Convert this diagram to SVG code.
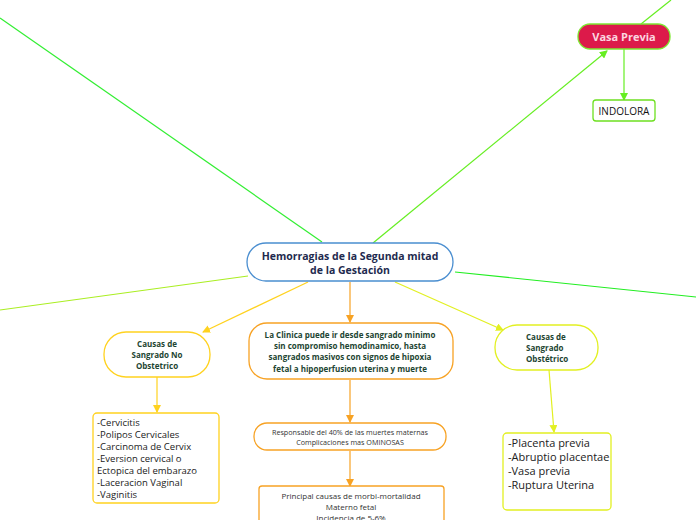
<svg xmlns="http://www.w3.org/2000/svg" width="696" height="520" viewBox="0 0 696 520">
<defs>
<style>
text{font-family:"Open Sans","Noto Sans","Liberation Sans",sans-serif}
.c{fill:none;stroke-width:1.2}
.bt{font-weight:bold;fill:#1d4532;font-size:8px}
.node{fill:#fff;stroke-width:1.3}
</style>
<marker id="mg" markerWidth="8" markerHeight="8" refX="7" refY="4" orient="auto" markerUnits="userSpaceOnUse"><path d="M0,0L8,4L0,8z" fill="#66ee22"/></marker>
<marker id="my" markerWidth="8" markerHeight="8" refX="7" refY="4" orient="auto" markerUnits="userSpaceOnUse"><path d="M0,0L8,4L0,8z" fill="#ffd21f"/></marker>
<marker id="ml" markerWidth="8" markerHeight="8" refX="7" refY="4" orient="auto" markerUnits="userSpaceOnUse"><path d="M0,0L8,4L0,8z" fill="#e2f022"/></marker>
<marker id="mo" markerWidth="8" markerHeight="8" refX="7" refY="4" orient="auto" markerUnits="userSpaceOnUse"><path d="M0,0L8,4L0,8z" fill="#f7a224"/></marker>
</defs>
<rect width="696" height="520" fill="#fff"/>
<g id="connectors">
<line class="c" x1="0" y1="18" x2="322" y2="242" stroke="#33ee33"/>
<line class="c" x1="0" y1="310" x2="248" y2="276" stroke="#aaee22"/>
<line class="c" x1="455" y1="272" x2="696" y2="297" stroke="#22ee22"/>
<line class="c" x1="373" y1="243" x2="607" y2="51" stroke="#66ee22" marker-end="url(#mg)"/>
<line class="c" x1="641" y1="24" x2="671" y2="0" stroke="#66ee22"/>
<line class="c" x1="624" y1="49" x2="624" y2="100" stroke="#66ee22" marker-end="url(#mg)"/>
<line class="c" x1="308" y1="282" x2="203" y2="332" stroke="#ffd21f" marker-end="url(#my)"/>
<line class="c" x1="395" y1="282" x2="503" y2="330" stroke="#e2f022" marker-end="url(#ml)"/>
<line class="c" x1="350" y1="282" x2="350" y2="322" stroke="#f7a224" marker-end="url(#mo)"/>
<line class="c" x1="350" y1="380" x2="350" y2="422" stroke="#f7a224" marker-end="url(#mo)"/>
<line class="c" x1="350" y1="451" x2="350" y2="486" stroke="#f7a224" marker-end="url(#mo)"/>
<line class="c" x1="157" y1="377" x2="157" y2="412" stroke="#ffd21f" marker-end="url(#my)"/>
<line class="c" x1="549" y1="370" x2="554" y2="432" stroke="#e2f022" marker-end="url(#ml)"/>
</g>
<g id="center">
<rect class="node" x="247" y="243" width="206" height="38" rx="19" stroke="#4a8ed0"/>
<text x="350" y="260" font-size="10.5" font-weight="bold" fill="#1e2a4e" text-anchor="middle">Hemorragias de la Segunda mitad</text>
<text x="350" y="274" font-size="10.5" font-weight="bold" fill="#1e2a4e" text-anchor="middle">de la Gestación</text>
</g>
<g id="vasa">
<rect x="578" y="24" width="92" height="25" rx="12" fill="#dc1a4a" stroke="#7ee832" stroke-width="1.3"/>
<text x="624" y="41" font-size="11" font-weight="bold" fill="#fbd6e0" text-anchor="middle">Vasa Previa</text>
</g>
<g id="indolora">
<rect class="node" x="593" y="100" width="62" height="21" rx="3" stroke="#6ee020" stroke-width="1.5"/>
<text x="624" y="115" font-size="10" fill="#111" text-anchor="middle">INDOLORA</text>
</g>
<g id="clinica">
<rect class="node" x="249" y="323" width="204" height="56" rx="18" stroke="#f7a224" stroke-width="1.5"/>
<text class="bt" x="350" y="338" text-anchor="middle">La Clinica puede ir desde sangrado minimo</text>
<text class="bt" x="350" y="349" text-anchor="middle">sin compromiso hemodinamico, hasta</text>
<text class="bt" x="350" y="360" text-anchor="middle">sangrados masivos con signos de hipoxia</text>
<text class="bt" x="350" y="372" text-anchor="middle">fetal a hipoperfusion uterina y muerte</text>
</g>
<g id="responsable">
<rect class="node" x="254" y="423" width="192" height="27" rx="13" stroke="#f7a224" stroke-width="1.5"/>
<text x="350" y="435" font-size="7.2" fill="#333" text-anchor="middle">Responsable del 40% de las muertes maternas</text>
<text x="350" y="445" font-size="7.2" fill="#333" text-anchor="middle">Complicaciones mas OMINOSAS</text>
</g>
<g id="principal">
<rect class="node" x="259" y="486" width="185" height="50" rx="3" stroke="#f7a224" stroke-width="1.5"/>
<text x="351" y="499" font-size="8" fill="#333" text-anchor="middle">Principal causas de morbi-mortalidad</text>
<text x="351" y="510" font-size="8" fill="#333" text-anchor="middle">Materno fetal</text>
<text x="351" y="521" font-size="8" fill="#333" text-anchor="middle">Incidencia de 5-6%</text>
</g>
<g id="noobstetrico">
<rect class="node" x="104" y="332" width="106" height="45" rx="22" stroke="#ffd21f"/>
<text class="bt" x="157" y="347" text-anchor="middle">Causas de</text>
<text class="bt" x="157" y="358" text-anchor="middle">Sangrado No</text>
<text class="bt" x="157" y="369" text-anchor="middle">Obstetrico</text>
</g>
<g id="noobstetrico-list">
<rect class="node" x="93" y="413" width="126" height="90" rx="4" stroke="#ffd21f" stroke-width="1.5"/>
<text font-size="9.5" fill="#222">
<tspan x="97" y="426">-Cervicitis</tspan>
<tspan x="97" y="438">-Polipos Cervicales</tspan>
<tspan x="97" y="450">-Carcinoma de Cervix</tspan>
<tspan x="97" y="462">-Eversion cervical o</tspan>
<tspan x="97" y="474">Ectopica del embarazo</tspan>
<tspan x="97" y="486">-Laceracion Vaginal</tspan>
<tspan x="97" y="498">-Vaginitis</tspan>
</text>
</g>
<g id="obstetrico">
<rect class="node" x="495" y="325" width="103" height="45" rx="22" stroke="#e2f022"/>
<text class="bt" x="526" y="340">Causas de</text>
<text class="bt" x="526" y="351">Sangrado</text>
<text class="bt" x="526" y="362">Obstétrico</text>
</g>
<g id="obstetrico-list">
<rect class="node" x="503" y="433" width="108" height="77" rx="4" stroke="#e2f022" stroke-width="1.5"/>
<text font-size="11" fill="#222">
<tspan x="508" y="447">-Placenta previa</tspan>
<tspan x="508" y="461">-Abruptio placentae</tspan>
<tspan x="508" y="475">-Vasa previa</tspan>
<tspan x="508" y="489">-Ruptura Uterina</tspan>
</text>
</g>
</svg>
